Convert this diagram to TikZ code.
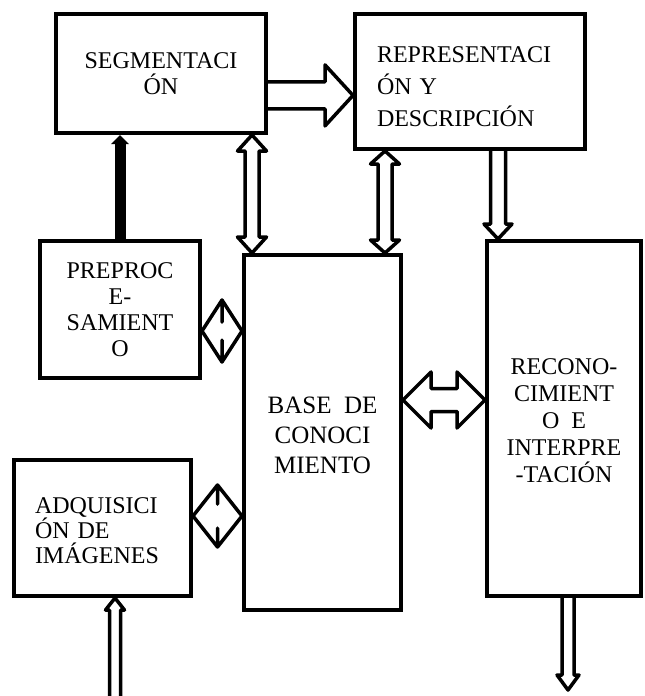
\documentclass[tikz,border=0pt]{standalone}
\usepackage{fontspec}
\setmainfont{Liberation Serif}
\usetikzlibrary{calc,arrows.meta}

% hollow block arrow: from, to, shaft half width, head half width, head length
\newcommand{\hollowarrow}[5]{%
  \coordinate (ha-a) at (#1);
  \coordinate (ha-b) at (#2);
  \coordinate (ha-h) at ($(ha-b)!#5!(ha-a)$);
  \draw[blockarrow] ($(ha-a)!#3!90:(ha-b)$) -- ($(ha-h)!#3!90:(ha-b)$)
    -- ($(ha-h)!#4!90:(ha-b)$) -- (ha-b) -- ($(ha-h)!#4!-90:(ha-b)$)
    -- ($(ha-h)!#3!-90:(ha-b)$) -- ($(ha-a)!#3!-90:(ha-b)$);
}
% hollow block arrow with two heads
\newcommand{\hollowdarrow}[5]{%
  \coordinate (ha-a) at (#1);
  \coordinate (ha-b) at (#2);
  \coordinate (ha-p) at ($(ha-a)!#5!(ha-b)$);
  \coordinate (ha-q) at ($(ha-b)!#5!(ha-a)$);
  \draw[blockarrow] (ha-a) -- ($(ha-p)!#4!90:(ha-b)$) -- ($(ha-p)!#3!90:(ha-b)$)
    -- ($(ha-q)!#3!90:(ha-b)$) -- ($(ha-q)!#4!90:(ha-b)$) -- (ha-b)
    -- ($(ha-q)!#4!-90:(ha-b)$) -- ($(ha-q)!#3!-90:(ha-b)$)
    -- ($(ha-p)!#3!-90:(ha-b)$) -- ($(ha-p)!#4!-90:(ha-b)$) -- cycle;
}

\begin{document}
\begin{tikzpicture}[x=1pt, y=-1pt,
    box/.style={draw, line width=4pt, inner sep=0pt, align=center,
      font=\fontsize{24}{26}\selectfont},
    blockarrow/.style={draw, line width=3.5pt, line join=round}]
  \useasboundingbox (0,0) rectangle (645,696);

  % Blocks
  \node[box, minimum width=210pt, minimum height=119pt] (seg) at (161,73.5) {SEGMENTACI\\ÓN};
  \node[box, minimum width=230pt, minimum height=135pt, text width=186pt, align=left,
    font=\fontsize{24}{32}\selectfont] (rep) at (470,81.5)
    {\rule{0pt}{27pt}REPRESENTACI\\ÓN Y\\DESCRIPCIÓN};
  \node[box, minimum width=160pt, minimum height=137pt] (pre) at (120,309.5) {PREPROC\\E-\\SAMIENT\\O};
  \node[box, minimum width=157pt, minimum height=355pt,
    font=\fontsize{25}{30}\selectfont] (base) at (322.5,432.5)
    {\rule{0pt}{22pt}BASE~ DE\\CONOCI\\MIENTO};
  \node[box, minimum width=154pt, minimum height=355pt,
    font=\fontsize{24}{27}\selectfont] (reco) at (564,418.5)
    {\rule{0pt}{21pt}RECONO-\\CIMIENT\\O~ E\\INTERPRE\\-TACIÓN};
  \node[box, minimum width=177pt, minimum height=136pt, text width=135pt, align=left,
    font=\fontsize{24}{25}\selectfont] (adq) at (102.5,528)
    {\rule{0pt}{21pt}ADQUISICI\\ÓN DE\\IMÁGENES};

  % Arrow ends
  \coordinate (sb) at ([xshift=10pt]base.north west);
  \coordinate (rb) at ([xshift=-18pt]base.north east);
  \coordinate (rr) at ([xshift=13pt]reco.north west);
  \coordinate (sr) at ($(rep.north west)!0.6!(rep.south west)$);
  \coordinate (br) at ([yshift=-147pt]base.north east);
  \coordinate (pb) at ([yshift=49pt]pre.south east);
  \coordinate (ab) at ([yshift=-58pt]adq.north east);
  \coordinate (imgin) at (115,696);
  \coordinate (recout) at (568,690);

  % Arrows
  \hollowarrow{seg.east |- sr}{sr}{13.5pt}{30.5pt}{28pt}
  \hollowdarrow{sb |- seg.south}{sb}{7pt}{14.5pt}{16pt}
  \hollowdarrow{rb |- rep.south}{rb}{7pt}{14.5pt}{13pt}
  \hollowarrow{rr |- rep.south}{rr}{7.5pt}{14pt}{15pt}
  \hollowdarrow{pb}{pb -| base.west}{9pt}{31pt}{20pt}
  \hollowdarrow{ab}{ab -| base.west}{12pt}{31pt}{24.5pt}
  \hollowdarrow{br}{br -| reco.west}{11.5pt}{28pt}{28pt}
  \hollowarrow{imgin}{imgin |- adq.south}{5.5pt}{9.5pt}{12pt}
  \hollowarrow{recout |- reco.south}{recout}{6pt}{11pt}{15pt}
  \draw[line width=11pt, -{Triangle[length=9pt, width=17pt]}] (pre.north) -- (pre.north |- seg.south);
\end{tikzpicture}
\end{document}
